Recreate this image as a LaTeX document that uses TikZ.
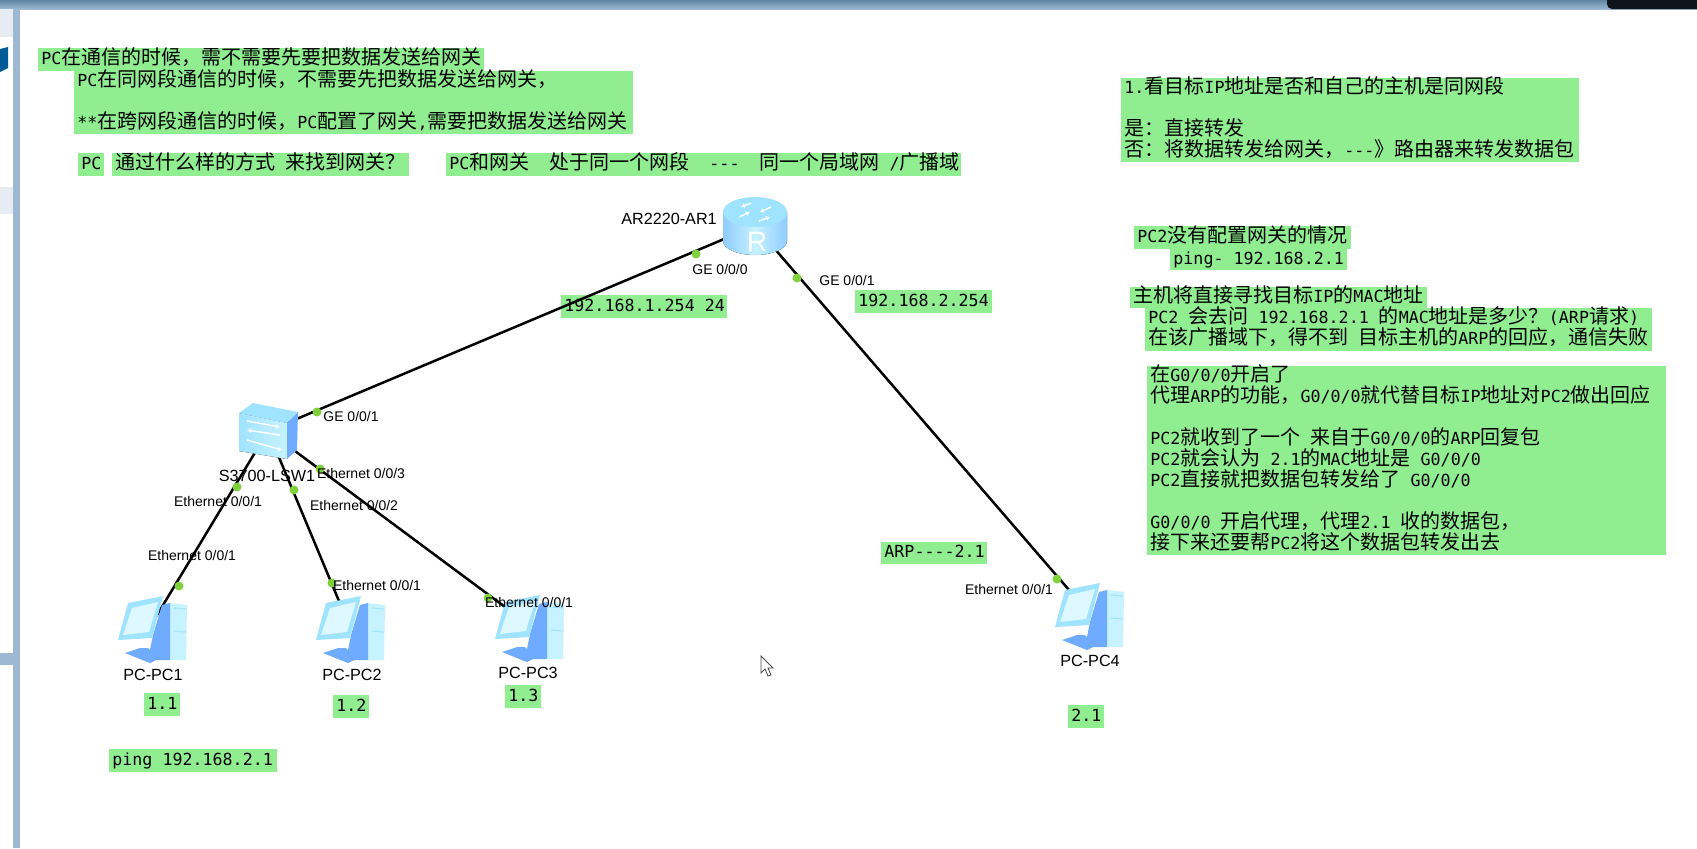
\documentclass[tikz,border=0pt]{standalone}
\usepackage{fontspec}
\setmainfont{Liberation Sans}
\setmonofont{DejaVu Sans Mono}
\newfontfamily\cjk{Noto Sans CJK SC}
\newcommand{\cn}[1]{\leavevmode\smash{\cjk\fontsize{10}{10.5}\selectfont #1}}
\newcommand{\gap}{\hspace*{5pt}}
\usetikzlibrary{arrows.meta}
\definecolor{notegreen}{HTML}{90EE90}
\definecolor{portgreen}{HTML}{7FD13B}
\definecolor{frameblue}{HTML}{9DB8D2}
\definecolor{bartop}{HTML}{5F86A5}
\definecolor{tabgrey}{HTML}{E6ECF2}
\definecolor{iconsky}{HTML}{9FE3FF}
\definecolor{iconpale}{HTML}{C7F2FF}
\definecolor{iconscreen}{HTML}{DDF8FF}
\definecolor{iconblue}{HTML}{6FABFF}

\begin{document}
\begin{tikzpicture}[x=0.5pt,y=-0.5pt,
notebox/.style={fill=notegreen,anchor=north west,align=left,inner xsep=1.5pt,inner ysep=0pt,font=\ttfamily\fontsize{8.33}{10.5}\selectfont,execute at begin node=\strut,execute at end node=\strut},
link/.style={draw=black,line width=1.25pt},
portdot/.style={circle,fill=portgreen,inner sep=0pt,minimum size=4.5pt},
portlabel/.style={font=\fontsize{7}{8}\selectfont,inner sep=0pt},
devicelabel/.style={font=\fontsize{8.1}{9.5}\selectfont,inner sep=0pt},
iconarrow/.style={-{Latex[length=2pt,width=2.5pt]},white,line width=0.7pt},
router/.pic={
\fill[left color=iconsky!90!blue,right color=iconsky!90!blue,middle color=iconpale] (-32,-14) -- (-32,15) arc[start angle=180,end angle=0,x radius=32,y radius=14] -- (32,-14) -- cycle;
\fill[iconsky] (0,-14) ellipse[x radius=32,y radius=15];
\draw[iconarrow] (-16,-9) -- (-5,-14);
\draw[iconarrow] (16,-19) -- (5,-14);
\draw[iconarrow] (-4,-23) -- (-14,-19);
\draw[iconarrow] (4,-5) -- (15,-9);
\node[white,font=\fontsize{14}{14}\selectfont,inner sep=0pt] (mark) at (2,16) {R};
},
switchicon/.pic={
\fill[left color=iconsky,right color=iconpale] (-29,-18) -- (19,-8) -- (19,28) -- (-29,20) -- cycle;
\fill[iconsky] (-29,-18) -- (-15,-28) -- (30,-19) -- (19,-8) -- cycle;
\fill[iconblue] (19,-8) -- (30,-19) -- (29,19) -- (19,28) -- cycle;
\draw[iconarrow] (-21,-10) -- (12,-4);
\draw[iconarrow] (12,4) -- (-21,-1);
\draw[iconarrow] (-21,9) -- (14,19);
},
pc/.pic={
\fill[iconpale] (19,-22) -- (36,-20) -- (35,35) -- (19,35) -- cycle;
\fill[iconblue] (11,-20) -- (19,-22) -- (19,35) -- (-3,35) -- (2,10) -- cycle;
\draw[iconsky,line width=0.5pt] (23,-17) -- (35,-16) (23,6) -- (35,7);
\fill[iconblue] (-11,23) -- (-3,23) -- (7,34) -- (-1,38) -- (-26,28) -- cycle;
\fill[iconsky] (-23,-22) -- (12,-29) -- (1,13) -- (-33,15) -- cycle;
\fill[iconscreen] (-19,-17) -- (7,-23) -- (-2,7) -- (-28,10) -- cycle;
}]
\useasboundingbox (0,0) rectangle (1697,848);
\fill[white] (0,0) rectangle (1697,848);
\shade[top color=bartop,bottom color=frameblue] (0,0) rectangle (1697,9);
\fill[black!85!bartop] (1607,0) {[rounded corners=2.5pt] -- (1607,9) -- (1640,9)} -- (1697,9) -- (1697,0) -- cycle;
\fill[tabgrey] (0,9) rectangle (13,37);
\fill[blue!40!cyan!60!black] (0,49) -- (8,47) -- (8,68) -- (0,72) -- cycle;
\fill[tabgrey] (0,187) rectangle (13,214);
\fill[frameblue] (0,653) rectangle (13,665);
\fill[frameblue] (13,9) rectangle (20,848);
\node[notebox,text width=220pt,minimum height=11.5pt] (question) at (38,48) {PC\cn{在通信的时候，需不需要先要把数据发送给网关}};
\node[notebox,text width=276.5pt,minimum height=31pt] (answer) at (74,71) {PC\cn{在同网段通信的时候，不需要先把数据发送给网关，}\\[10.5pt]**\cn{在跨网段通信的时候，}PC\cn{配置了网关},\cn{需要把数据发送给网关}};
\node[notebox,text width=10pt,minimum height=11.5pt] (pcword) at (78,153) {PC};
\node[notebox,text width=145.5pt,minimum height=11.5pt] (howfind) at (112,153) {\cn{通过什么样的方式}\gap\cn{来找到网关？}};
\node[notebox,text width=254.5pt,minimum height=11.5pt] (samenet) at (446,153) {PC\cn{和网关}\gap\gap\cn{处于同一个网段}\gap\gap---\gap\gap\cn{同一个局域网}\gap/\cn{广播域}};
\node[notebox,text width=226pt,minimum height=42pt] (rule) at (1121,78) {1.\cn{看目标}IP\cn{地址是否和自己的主机是同网段}\\[10.5pt]\cn{是：直接转发}\\\cn{否：将数据转发给网关，}---\cn{》路由器来转发数据包}};
\node[notebox,text width=105.5pt,minimum height=11.5pt] (nogate) at (1134,226) {PC2\cn{没有配置网关的情况}};
\node[notebox,text width=85.5pt,minimum height=9.5pt] (pingtwo) at (1170,249) {ping-\gap 192.168.2.1};
\node[notebox,text width=145.5pt,minimum height=10.5pt] (direct) at (1130,287) {\cn{主机将直接寻找目标}IP\cn{的}MAC\cn{地址}};
\node[notebox,text width=250.5pt,minimum height=21.5pt] (askmac) at (1145,308) {PC2\gap\cn{会去问}\gap 192.168.2.1\gap\cn{的}MAC\cn{地址是多少？}(ARP\cn{请求})\\\cn{在该广播域下，得不到}\gap\cn{目标主机的}ARP\cn{的回应，通信失败}};
\node[notebox,text width=256.5pt,minimum height=94.5pt] (proxy) at (1147,366) {\cn{在}G0/0/0\cn{开启了}\\\cn{代理}ARP\cn{的功能，}G0/0/0\cn{就代替目标}IP\cn{地址对}PC2\cn{做出回应}\\[10.5pt]PC2\cn{就收到了一个}\gap\cn{来自于}G0/0/0\cn{的}ARP\cn{回复包}\\PC2\cn{就会认为}\gap 2.1\cn{的}MAC\cn{地址是}\gap G0/0/0\\PC2\cn{直接就把数据包转发给了}\gap G0/0/0\\[10.5pt]G0/0/0\gap\cn{开启代理，代理}2.1\gap\cn{收的数据包，}\\\cn{接下来还要帮}PC2\cn{将这个数据包转发出去}};
\node[notebox,text width=80pt,minimum height=11.5pt] (ipgezero) at (561,295) {192.168.1.254\gap 24};
\node[notebox,text width=65.5pt,minimum height=11.5pt] (ipgeone) at (855,290) {192.168.2.254};
\node[notebox,text width=50pt,minimum height=11pt] (arpnote) at (881,542) {ARP----2.1};
\node[notebox,text width=15pt,minimum height=11.5pt] (ipone) at (144,693) {1.1};
\node[notebox,text width=15pt,minimum height=11.5pt] (iptwo) at (333,695) {1.2};
\node[notebox,text width=15pt,minimum height=11.5pt] (ipthree) at (505,685) {1.3};
\node[notebox,text width=15pt,minimum height=11.5pt] (ipfour) at (1068,705) {2.1};
\node[notebox,text width=81pt,minimum height=11.5pt] (pingone) at (109,749) {ping\gap 192.168.2.1};
\coordinate (ar1) at (755,226);
\coordinate (lsw1) at (268,431);
\coordinate (pc1) at (151,625);
\coordinate (pc2) at (349,625);
\coordinate (pc3) at (528,624);
\coordinate (pc4) at (1088,612);
\draw[link] (ar1) -- (lsw1);
\draw[link] (ar1) -- (pc4);
\draw[link] (lsw1) -- (pc1);
\draw[link] (lsw1) -- (pc2);
\draw[link] (lsw1) -- (pc3);
\pic at (ar1) {router};
\pic at (lsw1) {switchicon};
\pic at (pc1) {pc};
\pic at (pc2) {pc};
\pic at (pc3) {pc};
\pic at (pc4) {pc};
\node[portdot] (dotarzero) at (696,254) {};
\node[portdot] (dotarone) at (797,278) {};
\node[portdot] (dotswup) at (317,412) {};
\node[portdot] (dotswone) at (237,487) {};
\node[portdot] (dotswtwo) at (294,490) {};
\node[portdot] (dotswthree) at (320,469) {};
\node[portdot] (dotpcone) at (179,586) {};
\node[portdot] (dotpctwo) at (332,583) {};
\node[portdot] (dotpcthree) at (488,598) {};
\node[portdot] (dotpcfour) at (1057,579) {};
\node[portlabel] (gezero) at (720,269) {GE 0/0/0};
\node[portlabel] (geone) at (847,280) {GE 0/0/1};
\node[portlabel] (geswitch) at (351,416) {GE 0/0/1};
\node[portlabel] (ethswone) at (218,501) {Ethernet 0/0/1};
\node[portlabel] (ethswtwo) at (354,505) {Ethernet 0/0/2};
\node[portlabel] (ethswthree) at (361,473) {Ethernet 0/0/3};
\node[portlabel] (ethpcone) at (192,555) {Ethernet 0/0/1};
\node[portlabel] (ethpctwo) at (377,585) {Ethernet 0/0/1};
\node[portlabel] (ethpcthree) at (529,602) {Ethernet 0/0/1};
\node[portlabel] (ethpcfour) at (1009,589) {Ethernet 0/0/1};
\node[devicelabel] (arname) at (669,219) {AR2220-AR1};
\node[devicelabel] (swname) at (267,476) {S3700-LSW1};
\node[devicelabel] (pconename) at (153,675) {PC-PC1};
\node[devicelabel] (pctwoname) at (352,675) {PC-PC2};
\node[devicelabel] (pcthreename) at (528,673) {PC-PC3};
\node[devicelabel] (pcfourname) at (1090,661) {PC-PC4};
\draw[black!70,fill=white,line width=0.4pt] (761,656) -- (761,673) -- (765,669) -- (768,676) -- (771,675) -- (768,668) -- (773,668) -- cycle;
\end{tikzpicture}
\end{document}
